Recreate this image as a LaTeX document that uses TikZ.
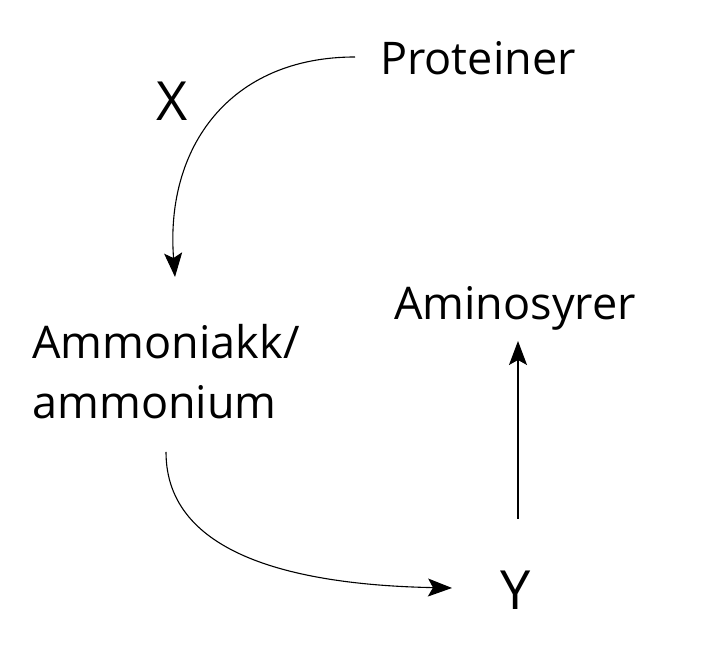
\documentclass[tikz,border=0pt]{standalone}
\usepackage{fontspec}
\setmainfont{Open Sans}
\usetikzlibrary{arrows.meta}
\begin{document}
\begin{tikzpicture}[x=1pt, y=1pt,
	label text/.style={font=\fontsize{45}{60}\selectfont, inner sep=0pt},
	big text/.style={font=\fontsize{54}{60}\selectfont, inner sep=0pt},
	flow/.style={-{Stealth[length=24pt, width=18pt, inset=5pt]}, line width=1.1pt}]

%FRAME
\useasboundingbox (0,0) rectangle (702,647);

%NODES
\node[label text] (prot) at (478,589) {Proteiner};
\node[big text] (x) at (172,546) {X};
\node[label text, align=left] (amm) at (166,275) {Ammoniakk/\\ammonium};
\node[label text] (amino) at (515,339) {Aminosyrer};
\node[big text] (y) at (516,57) {Y};

%FREE ENDS
\coordinate (p0) at (355,590);
\coordinate (a1) at (175,370);
\coordinate (a0) at (166,195);
\coordinate (y0) at (452,59);
\coordinate (y1) at (518,128);
\coordinate (m1) at (518,306);

%CONNECTORS
\draw[flow] (p0) .. controls (230,590) and (165,500) .. (a1);
\draw[flow] (a0) .. controls (166,90) and (300,62) .. (y0);
\draw[flow] (y1) -- (m1);
\end{tikzpicture}
\end{document}
